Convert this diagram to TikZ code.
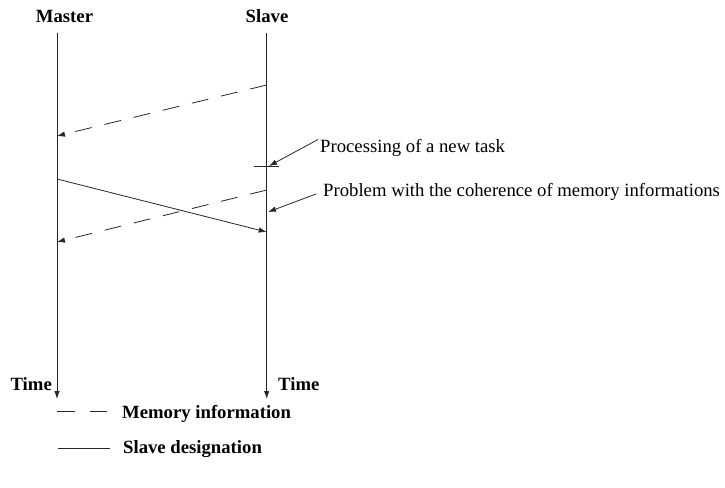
\documentclass[tikz,border=0pt]{standalone}
\usepackage{fontspec}
\setmainfont{Liberation Serif}
\usetikzlibrary{arrows.meta}
\begin{document}
\begin{tikzpicture}[x=1pt,y=-1pt,
  lbl/.style={font=\fontsize{18.7}{20}\selectfont\bfseries,inner sep=0pt,anchor=base},
  txt/.style={font=\fontsize{18.7}{20}\selectfont,inner sep=0pt,anchor=base west},
  ln/.style={line width=0.8pt,black!85},
  tip/.style={-{Latex[length=8pt,width=5.5pt]}},
  dsh/.style={dash pattern=on 17pt off 13pt}]
\useasboundingbox (0,0) rectangle (725,487);
% lifelines
\coordinate (mtop) at (57,33);
\coordinate (mbot) at (57,399);
\coordinate (stop) at (266.7,33);
\coordinate (sbot) at (266.7,399);
\node[lbl] (master) at (64.5,22.5) {Master};
\node[lbl] (slave) at (267,22.5) {Slave};
\draw[ln,tip] (mtop) -- (mbot);
\draw[ln,tip] (stop) -- (sbot);
\node[lbl,anchor=base east] (timeL) at (52,390) {Time};
\node[lbl,anchor=base west] (timeR) at (278,390) {Time};
% messages
\coordinate (d1s) at (266.7,85);
\coordinate (d1e) at (57,136);
\draw[ln,tip,dsh] (d1s) -- (d1e);
\coordinate (d2s) at (266.7,190);
\coordinate (d2e) at (57,242);
\draw[ln,tip,dsh] (d2s) -- (d2e);
\coordinate (ss) at (57,179);
\coordinate (se) at (266.7,232);
\draw[ln,tip] (ss) -- (se);
% tick
\coordinate (tk1) at (254,166.7);
\coordinate (tk2) at (279,166.7);
\draw[ln] (tk1) -- (tk2);
% annotations
\node[txt] (proc) at (320,152) {Processing of a new task};
\coordinate (procA) at (318,139.5);
\coordinate (procT) at (269,166);
\draw[ln,tip] (procA) -- (procT);
\node[txt] (prob) at (323,196) {Problem with the coherence of memory informations};
\coordinate (probA) at (316,194);
\coordinate (probT) at (268,212);
\draw[ln,tip] (probA) -- (probT);
% legend
\coordinate (l1a) at (57,411);
\coordinate (l1b) at (107,411);
\draw[ln,dash pattern=on 18pt off 15pt] (l1a) -- (l1b);
\node[txt,font=\fontsize{18.7}{20}\selectfont\bfseries] (leg1) at (122,418) {Memory information};
\coordinate (l2a) at (58,448);
\coordinate (l2b) at (110,448);
\draw[ln] (l2a) -- (l2b);
\node[txt,font=\fontsize{18.7}{20}\selectfont\bfseries] (leg2) at (123,453) {Slave designation};
\end{tikzpicture}
\end{document}
